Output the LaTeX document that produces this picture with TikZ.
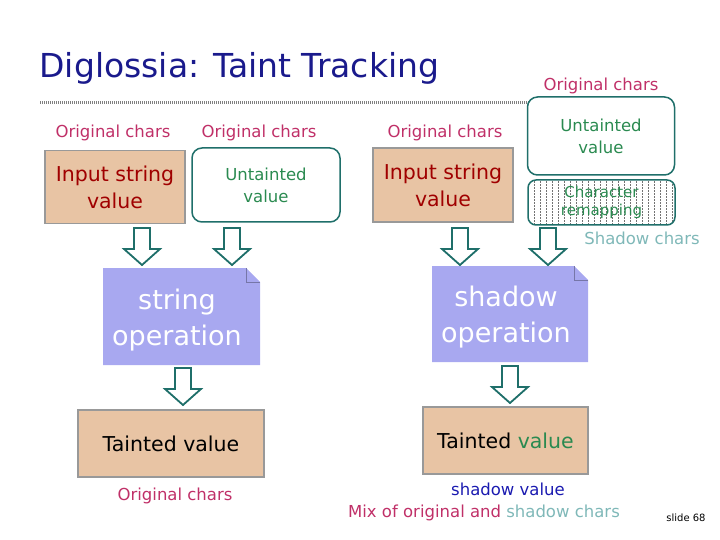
\documentclass[tikz,border=0pt]{standalone}
\usepackage{fontspec}
\setmainfont{DejaVu Sans}
\definecolor{ttl}{HTML}{1A1A8C}
\definecolor{pinkc}{HTML}{C03068}
\definecolor{tanc}{HTML}{E8C4A4}
\definecolor{dred}{HTML}{A00000}
\definecolor{tealc}{HTML}{1F6F6A}
\definecolor{grn}{HTML}{2A8A50}
\definecolor{lav}{HTML}{A8A8F0}
\definecolor{ltl}{HTML}{7FB8B8}
\definecolor{sblue}{HTML}{1A1AB0}
\tikzset{
 lbl/.style={text=pinkc,font=\fontsize{16.5}{16.5}\selectfont},
 tanbox/.style={draw=gray!80,line width=1.5pt,fill=tanc,text=dred,align=center,font=\fontsize{20.5}{27}\selectfont},
 untbox/.style={draw=tealc,line width=1.5pt,rounded corners=10pt,text=grn,align=center,font=\fontsize{16.5}{22}\selectfont},
 blockarr/.style={draw=tealc,line width=1.8pt,fill=white,line join=miter},
 opbox/.style={text=white,align=center,font=\fontsize{27}{36}\selectfont},
 blockdown/.pic={\draw[blockarr] (-8,-18) -- (8,-18) -- (8,3) -- (18,3) -- (0,19) -- (-18,3) -- (-8,3) -- cycle;},
}
\begin{document}
\begin{tikzpicture}[x=1pt,y=-1pt]
\useasboundingbox (0,0) rectangle (720,540);
\node[anchor=base west,text=ttl,font=\fontsize{33}{33}\selectfont] (title) at (36,78) {Diglossia: Taint Tracking};
\draw[gray,line width=3pt,dash pattern=on 1pt off 1pt] (40,103) -- (530,103);
\node[lbl] (l1) at (113,133) {Original chars};
\node[lbl] (l2) at (259,133) {Original chars};
\node[lbl] (l3) at (445,133) {Original chars};
\node[lbl] (l4) at (601,86) {Original chars};
\node[tanbox,minimum width=140pt,minimum height=73pt] (in1) at (115,187) {Input string\\value};
\node[untbox,minimum width=148pt,minimum height=74pt] (un1) at (266,185) {Untainted\\value};
\node[tanbox,minimum width=140pt,minimum height=74pt] (in2) at (443,185) {Input string\\value};
\node[untbox,minimum width=147pt,minimum height=78pt] (un2) at (601,136) {Untainted\\value};
\begin{scope}
\clip[rounded corners=8pt] (528,180) rectangle (675,225);
\fill[white] (528,180) rectangle (675,225);
\draw[black!55,line width=0.5pt,densely dotted] (528,180) grid[step=6] (675,225);
\end{scope}
\node[draw=tealc,line width=1.5pt,rounded corners=8pt,minimum width=147pt,minimum height=45pt,text=grn,align=center,font=\fontsize{15}{18}\selectfont] (cr) at (601.5,202.5) {Character\\remapping};
\node[text=ltl,font=\fontsize{16.5}{16.5}\selectfont] (sc) at (642,238) {Shadow chars};
\fill[lav] (103,268) -- (246,268) -- (260,282) -- (260,365) -- (103,365) -- cycle;
\draw[lav!70!black] (246,268) -- (246,282) -- (260,282);
\node[opbox] (op1) at (177,320) {string\\operation};
\fill[lav] (432,266) -- (574,266) -- (588,280) -- (588,362) -- (432,362) -- cycle;
\draw[lav!70!black] (574,266) -- (574,280) -- (588,280);
\node[opbox] (op2) at (506,317) {shadow\\operation};
\node[tanbox,text=black,minimum width=186pt,minimum height=67pt] (t1) at (171,443.5) {Tainted value};
\node[tanbox,text=black,minimum width=165pt,minimum height=67pt] (t2) at (505.5,440.5) {Tainted \textcolor{grn}{value}};
\pic at (142,246) {blockdown};
\pic at (232,246) {blockdown};
\pic at (460,246) {blockdown};
\pic at (548,246) {blockdown};
\pic at (183,386) {blockdown};
\pic at (510,384) {blockdown};
\node[lbl] (l5) at (175,496) {Original chars};
\node[text=sblue,font=\fontsize{16.5}{16.5}\selectfont] (sv) at (508,489) {shadow value};
\node[lbl] (mix) at (484,513) {Mix of original and \textcolor{ltl}{shadow chars}};
\node[font=\fontsize{10}{10}\selectfont] (sl) at (686,518) {slide 68};
\end{tikzpicture}
\end{document}
